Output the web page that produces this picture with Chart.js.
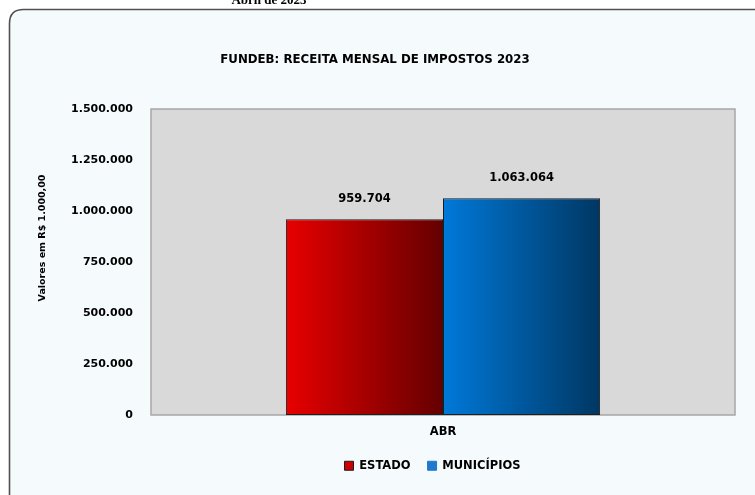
<!DOCTYPE html>
<html>
<head>
<meta charset="utf-8">
<script src="https://cdn.jsdelivr.net/npm/chart.js@4"></script>
<style>
  html, body { margin: 0; padding: 0; background: #ffffff; }
  #wrap { width: 755px; height: 495px; }
</style>
</head>
<body>
<div id="wrap"><canvas id="grafico"></canvas></div>
<script>
// dados
var meses = ["ABR"];
var estado = [959704];
var municipios = [1063064];
var series = ["ESTADO", "MUNICÍPIOS"];
var ticksY = [0, 250000, 500000, 750000, 1000000, 1250000, 1500000];

var fonte = "'DejaVu Sans'";

function formata(n) {
    var s = Math.round(n).toString();
    return s.replace(/\B(?=(\d{3})+(?!\d))/g, ".");
}

// moldura, titulos e fundo da area do grafico
var moldura = {
    id: 'moldura',
    beforeDraw: function (chart) {
        var c = chart.ctx, a = chart.chartArea;
        // legenda deslocada para a direita, como no original
        if (!chart.legend._deslocada) {
            chart.legend.left += 65;
            chart.legend.right += 65;
            chart.legend._deslocada = true;
        }
        c.save();
        c.fillStyle = '#ffffff';
        c.fillRect(0, 0, chart.width, chart.height);
        // caixa arredondada
        c.beginPath();
        var x = 9.5, y = 9.5, r = 14;
        c.moveTo(x, chart.height + 20);
        c.lineTo(x, y + r);
        c.quadraticCurveTo(x, y, x + r, y);
        c.lineTo(chart.width + 20, y);
        c.lineTo(chart.width + 20, chart.height + 20);
        c.closePath();
        c.fillStyle = '#f5fafd';
        c.fill();
        c.strokeStyle = '#505050';
        c.lineWidth = 1.6;
        c.stroke();
        // cabecalho cortado
        c.fillStyle = '#000';
        c.font = "bold 13px 'Liberation Serif'";
        c.textAlign = 'center';
        c.textBaseline = 'alphabetic';
        c.fillText('Abril de 2023', 269, 4);
        // titulo
        c.font = "bold 11.8px " + fonte;
        c.textBaseline = 'middle';
        c.fillText('FUNDEB: RECEITA MENSAL DE IMPOSTOS 2023', 375, 60);
        // titulo eixo y
        c.save();
        c.translate(43, 238);
        c.rotate(-Math.PI / 2);
        c.font = "bold 9.5px " + fonte;
        c.fillText('Valores em R$ 1.000,00', 0, 0);
        c.restore();
        // fundo cinza
        c.fillStyle = '#d9d9d9';
        c.fillRect(a.left, a.top, a.right - a.left, a.bottom - a.top);
        c.strokeStyle = '#a6a6a6';
        c.lineWidth = 1.5;
        c.strokeRect(a.left, a.top, a.right - a.left, a.bottom - a.top);
        c.restore();
    },
    beforeDatasetsDraw: function (chart) {
        var cores = [['#e80000', '#640000'], ['#0079d9', '#003763']];
        chart.data.datasets.forEach(function (ds, i) {
            chart.getDatasetMeta(i).data.forEach(function (el) {
                var g = chart.ctx.createLinearGradient(el.x - el.width / 2, 0, el.x + el.width / 2, 0);
                g.addColorStop(0, cores[i][0]);
                g.addColorStop(1, cores[i][1]);
                el.options.backgroundColor = g;
            });
        });
    },
    afterDatasetsDraw: function (chart) {
        var c = chart.ctx;
        c.save();
        c.font = "bold 11.5px " + fonte;
        c.fillStyle = '#000';
        c.textAlign = 'center';
        c.textBaseline = 'middle';
        chart.data.datasets.forEach(function (ds, i) {
            chart.getDatasetMeta(i).data.forEach(function (el, j) {
                c.fillText(formata(ds.data[j]), el.x, el.y - 20);
            });
        });
        c.restore();
    }
};

var ctx = document.getElementById("grafico");
var grafico = new Chart(ctx, {
    type: 'bar',
    data: {
        labels: meses,
        datasets: [{
            label: series[0],
            data: estado,
            backgroundColor: '#c80000',
            borderColor: '#1e1e1e',
            borderWidth: 1,
            borderSkipped: false
        }, {
            label: series[1],
            data: municipios,
            backgroundColor: '#1a78cc',
            borderColor: '#1e1e1e',
            borderWidth: 1,
            borderSkipped: false
        }]
    },
    plugins: [moldura],
    options: {
        responsive: true,
        maintainAspectRatio: false,
        animation: false,
        devicePixelRatio: 1,
        categoryPercentage: 0.538,
        barPercentage: 1,
        layout: {
            padding: { top: 109, right: 20, left: 0, bottom: 13.5 }
        },
        scales: {
            x: {
                grid: { display: false, drawTicks: false },
                border: { display: false },
                ticks: { color: '#000', font: { family: fonte, weight: 'bold', size: 11.5 }, padding: 10 },
                afterFit: function (s) { s.height = 28; }
            },
            y: {
                min: 0,
                max: 1500000,
                grid: { display: false, drawTicks: false },
                border: { display: false },
                afterBuildTicks: function (s) {
                    s.ticks = ticksY.map(function (v) { return { value: v }; });
                },
                ticks: {
                    color: '#000',
                    padding: 18,
                    font: { family: fonte, weight: 'bold', size: 11 },
                    callback: function (v) { return formata(v); }
                },
                afterFit: function (s) { s.width = 151; }
            }
        },
        plugins: {
            title: { display: false },
            tooltip: { enabled: false },
            legend: {
                position: 'bottom',
                labels: {
                    color: '#000',
                    boxWidth: 9,
                    boxHeight: 9,
                    padding: 17,
                    font: { family: fonte, weight: 'bold', size: 11.5 },
                    generateLabels: function (chart) {
                        var fills = ['#cc0000', '#1f78cf'];
                        var bordas = ['#1e1e1e', '#1f78cf'];
                        return chart.data.datasets.map(function (ds, i) {
                            return {
                                text: ds.label,
                                fillStyle: fills[i],
                                strokeStyle: bordas[i],
                                lineWidth: 1,
                                fontColor: '#000',
                                datasetIndex: i,
                                hidden: false
                            };
                        });
                    }
                }
            }
        }
    }
});
</script>
</body>
</html>
